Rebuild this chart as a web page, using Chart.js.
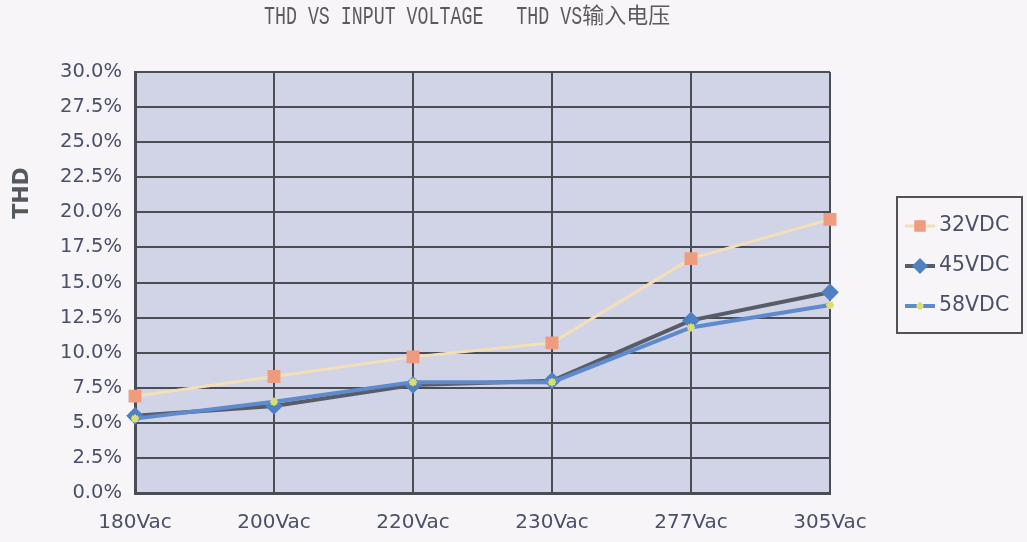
<!DOCTYPE html>
<html>
<head>
<meta charset="utf-8">
<script src="https://cdn.jsdelivr.net/npm/chart.js@4.4.1/dist/chart.umd.min.js"></script>
<style>
  html, body { margin: 0; padding: 0; background: #f8f5f8; }
  #wrap { width: 1027px; height: 542px; }
</style>
</head>
<body>
<div id="wrap"><canvas id="c" width="1027" height="542"></canvas></div>
<script>
const categories = ['180Vac', '200Vac', '220Vac', '230Vac', '277Vac', '305Vac'];
const seriesNames = ['32VDC', '45VDC', '58VDC'];
const thd32 = [6.9, 8.3, 9.7, 10.7, 16.7, 19.5];
const thd45 = [5.5, 6.2, 7.7, 8.0, 12.3, 14.3];
const thd58 = [5.3, 6.5, 7.9, 7.9, 11.8, 13.4];
const yTickMin = 0, yTickMax = 30, yTickStep = 2.5;
const titleLatin = 'THD VS INPUT VOLTAGE   THD VS';
const titleCJK = '输入电压';
const yAxisTitle = 'THD';

const labelColor = '#4a5068';
const gridColor = '#4b4d55';

const drawPlugin = {
  id: 'extras',
  beforeDraw(chart) {
    const {ctx, chartArea: a} = chart;
    ctx.save();
    ctx.fillStyle = '#d1d3e7';
    ctx.fillRect(a.left, a.top, a.right - a.left, a.bottom - a.top);
    ctx.restore();
  },
  afterDraw(chart) {
    const {ctx, chartArea: a} = chart;

    // title (condensed monospace, stretched vertically)
    ctx.save();
    ctx.fillStyle = '#5a5a60';
    ctx.textBaseline = 'middle';
    ctx.textAlign = 'left';
    ctx.font = '18.3px "Liberation Mono"';
    const wLat = ctx.measureText(titleLatin).width;
    ctx.save();
    ctx.translate(264, 17);
    ctx.scale(1, 1.4);
    ctx.fillText(titleLatin, 0, 0);
    ctx.restore();
    ctx.font = '22px "Noto Sans CJK SC"';
    ctx.fillText(titleCJK, 264 + wLat, 15);
    ctx.restore();

    // y axis title
    ctx.save();
    ctx.translate(22, 193);
    ctx.rotate(-Math.PI / 2);
    ctx.font = 'bold 22px "DejaVu Sans"';
    ctx.fillStyle = '#55585f';
    ctx.textAlign = 'center';
    ctx.textBaseline = 'middle';
    ctx.fillText(yAxisTitle, 0, 0);
    ctx.restore();

    // legend
    const lx = 897, ly = 197, lw = 125, lh = 136;
    ctx.save();
    ctx.strokeStyle = '#505258';
    ctx.lineWidth = 2;
    ctx.strokeRect(lx, ly, lw, lh);
    chart.data.datasets.forEach((ds, i) => {
      const y = ly + 29 + i * 40;
      ctx.strokeStyle = ds.borderColor;
      ctx.lineWidth = ds.borderWidth;
      ctx.beginPath();
      ctx.moveTo(905, y);
      ctx.lineTo(935, y);
      ctx.stroke();
      ctx.fillStyle = ds.pointBackgroundColor;
      ctx.strokeStyle = ds.pointBorderColor;
      Chart.helpers.drawPoint(ctx, {
        pointStyle: ds.pointStyle,
        radius: ds.pointRadius * 0.85,
        borderWidth: ds.pointBorderWidth || 1
      }, 920, y);
      ctx.font = '20.5px "DejaVu Sans"';
      ctx.fillStyle = labelColor;
      ctx.textAlign = 'left';
      ctx.textBaseline = 'middle';
      ctx.fillText(ds.label, 939, y);
    });
    ctx.restore();
  }
};

const ctx = document.getElementById('c').getContext('2d');
const chart = new Chart(ctx, {
  type: 'line',
  data: {
    labels: categories,
    datasets: [
      {
        label: seriesNames[0], data: thd32,
        borderColor: '#f4dfb6', borderWidth: 3,
        pointStyle: 'rect', pointRadius: 7,
        pointBackgroundColor: '#ef9b7d', pointBorderColor: '#ef9b7d',
        order: 0
      },
      {
        label: seriesNames[1], data: thd45,
        borderColor: '#585c66', borderWidth: 4,
        pointStyle: 'rectRot', pointRadius: 6,
        pointBackgroundColor: '#4f80c2', pointBorderColor: '#4f80c2',
        order: 2
      },
      {
        label: seriesNames[2], data: thd58,
        borderColor: '#5d8bcd', borderWidth: 4,
        pointStyle: 'star', pointRadius: 4, pointBorderWidth: 2,
        pointBackgroundColor: '#e3e37a', pointBorderColor: '#dede70',
        order: 1
      }
    ]
  },
  options: {
    responsive: false,
    animation: false,
    layout: { padding: { left: 0, right: 197, top: 72, bottom: 0 } },
    plugins: {
      legend: { display: false },
      tooltip: { enabled: false },
      title: { display: false }
    },
    scales: {
      x: {
        offset: false,
        grid: { color: gridColor, lineWidth: 2, drawTicks: false },
        border: { color: gridColor, width: 3 },
        ticks: { color: labelColor, font: { family: '"DejaVu Sans"', size: 20 }, padding: 18, maxRotation: 0 },
        afterFit(s) { s.height = 49; }
      },
      y: {
        min: yTickMin, max: yTickMax,
        grid: { color: gridColor, lineWidth: 2, drawTicks: false },
        border: { color: gridColor, width: 3 },
        ticks: {
          stepSize: yTickStep,
          color: labelColor,
          font: { family: '"DejaVu Sans"', size: 19.5 },
          padding: 13,
          callback: v => v.toFixed(1) + '%'
        },
        afterFit(s) { s.width = 135; }
      }
    }
  },
  plugins: [drawPlugin]
});
</script>
</body>
</html>
